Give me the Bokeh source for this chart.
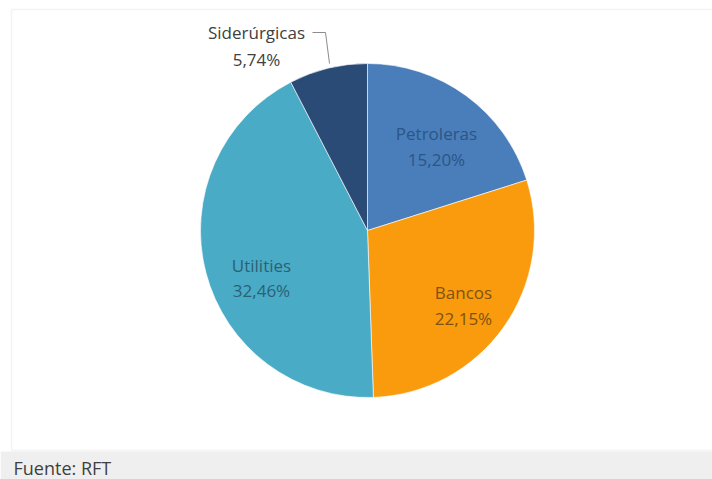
import numpy as np
from bokeh.plotting import figure
from bokeh.models import Range1d, ColumnDataSource, BoxAnnotation
from bokeh.core.properties import value
from bokeh.embed import file_html
from bokeh.resources import INLINE

# ---- data ----
categories = ["Petroleras", "Bancos", "Utilities", "Siderúrgicas"]
values = [15.20, 22.15, 32.46, 5.74]
pct_labels = ["15,20%", "22,15%", "32,46%", "5,74%"]
colors = ["#4a7ebb", "#f99b0c", "#4aabc6", "#2a4b76"]
text_colors = ["#2b5585", "#7f5214", "#2a6175", "#404040"]
source_text = "Fuente: RFT"

# ---- layout (pixel positions, top-left origin) ----
W, H = 712, 479
cx_pix, cy_pix, radius = 367, 230, 167
label_x = [436, 463, 261, 256]
label_name_y = [133, 292, 265, 32]
label_pct_y = [159, 318, 290, 59]

def Y(ypix):
    return H - ypix

vals = np.array(values, dtype=float)
total = vals.sum()
cum = np.concatenate([[0.0], np.cumsum(vals)])
start = np.pi / 2 - 2 * np.pi * cum[:-1] / total
end = np.pi / 2 - 2 * np.pi * cum[1:] / total

p = figure(width=W, height=H, output_backend="svg", toolbar_location=None,
           x_range=Range1d(0, W), y_range=Range1d(0, H), min_border=0)
p.axis.visible = False
p.grid.visible = False
p.outline_line_color = None
p.background_fill_color = "white"
p.border_fill_color = "white"

# chart frame and footer band
p.add_layout(BoxAnnotation(left=11, right=W + 5, top=Y(9), bottom=Y(450),
                           fill_color="white", fill_alpha=1,
                           line_color="#d6d6d6", line_width=1.5,
                           level="underlay"))
p.add_layout(BoxAnnotation(left=0, right=W, top=Y(451), bottom=0,
                           fill_color="#efefef", fill_alpha=1, line_color=None,
                           level="underlay"))

src = ColumnDataSource(dict(cat=categories, val=values, start=start, end=end,
                            color=colors))
p.wedge(x=cx_pix, y=Y(cy_pix), radius=radius, start_angle="start",
        end_angle="end", direction="clock", fill_color="color",
        line_color="white", line_width=1, line_alpha=0.6, source=src)

lab = ColumnDataSource(dict(x=label_x, yn=[Y(v) for v in label_name_y],
                            yp=[Y(v) for v in label_pct_y],
                            name=categories, pct=pct_labels, tc=text_colors))
for col in ("yn", "yp"):
    p.text(x="x", y=col, text="name" if col == "yn" else "pct", source=lab,
           text_color="tc", text_font=value("Open Sans"),
           text_font_size="17px", text_align="center",
           text_baseline="middle")

# leader line for Siderúrgicas
p.line(x=[312, 325, 329], y=[Y(32), Y(32), Y(63)], line_color="#8c8c8c",
       line_width=1)

p.text(x=[13], y=[Y(467)], text=[source_text], text_color="#404040",
       text_font=value("Open Sans"), text_font_size="18px",
       text_align="left", text_baseline="middle")

open("out.html", "w").write(file_html(p, INLINE))
